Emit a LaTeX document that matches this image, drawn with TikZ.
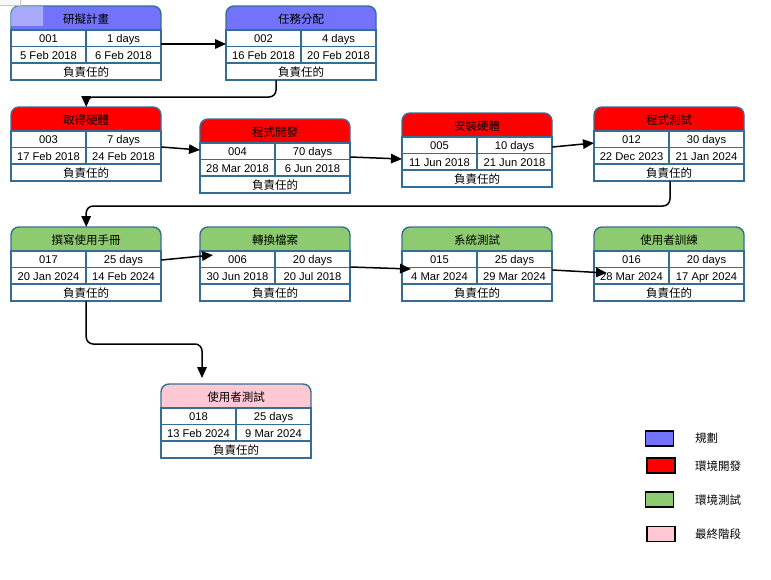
\documentclass[tikz,border=0pt]{standalone}
\usepackage{fontspec}
\setmainfont{Liberation Sans}
\newfontfamily\cjk{Noto Sans CJK TC}
\usetikzlibrary{arrows.meta,calc}
\definecolor{plan}{RGB}{114,114,250}
\definecolor{devr}{RGB}{255,0,0}
\definecolor{testg}{RGB}{142,203,112}
\definecolor{finalp}{RGB}{255,200,210}
\definecolor{bord}{RGB}{52,110,150}
\tikzset{
  cell/.style={font=\fontsize{11.2}{12}\selectfont, inner sep=0pt, anchor=base},
  ttl/.style={font=\fontsize{11.5}{12}\selectfont\cjk, inner sep=0pt, anchor=base},
  border/.style={draw=bord, line width=1.4pt},
  conn/.style={line width=1.5pt, -{Triangle[length=11pt,width=9.5pt]}},
  legbox/.style={draw=black, line width=1.2pt, minimum width=28pt, minimum height=15pt, inner sep=0pt},
  legtxt/.style={font=\fontsize{11.5}{12}\selectfont\cjk, anchor=west, inner sep=0pt},
}
\newcommand\taskbox[9]{%
  \node[inner sep=0pt, minimum width=150pt, minimum height=74pt, anchor=north west] (#1) at (#2,#3) {};
  \begin{scope}
    \clip (#2-3,#3-3) rectangle (#2+153,#3+24);
    \draw[border, fill=#4, rounded corners=8pt] (#2,#3) rectangle (#2+150,#3+40);
  \end{scope}
  \draw[border, fill=white] (#2,#3+24) rectangle (#2+150,#3+74);
  \draw[border] (#2,#3+40.5) -- (#2+150,#3+40.5) (#2,#3+57) -- (#2+150,#3+57) (#2+75,#3+24) -- (#2+75,#3+57);
  \node[ttl] (#1-t) at (#2+75,#3+17) {#5};
  \node[cell] (#1-id) at (#2+37.5,#3+36.5) {#6};
  \node[cell] (#1-d) at (#2+112.5,#3+36.5) {#7};
  \node[cell] (#1-s) at (#2+37.5,#3+53) {#8};
  \node[cell] (#1-e) at (#2+112.5,#3+53) {#9};
  \node[ttl] (#1-r) at (#2+75,#3+70) {負責任的};
}
\begin{document}
\begin{tikzpicture}[x=1pt,y=-1pt]
\useasboundingbox (0,0) rectangle (771,579);
\taskbox{b1}{11}{6}{plan}{研擬計畫}{001}{1 days}{5 Feb 2018}{6 Feb 2018}
\taskbox{b2}{226}{6}{plan}{任務分配}{002}{4 days}{16 Feb 2018}{20 Feb 2018}
\taskbox{b3}{11}{107}{devr}{取得硬體}{003}{7 days}{17 Feb 2018}{24 Feb 2018}
\taskbox{b4}{200}{119}{devr}{程式開發}{004}{70 days}{28 Mar 2018}{6 Jun 2018}
\taskbox{b5}{402}{113}{devr}{安裝硬體}{005}{10 days}{11 Jun 2018}{21 Jun 2018}
\taskbox{b6}{594}{107}{devr}{程式測試}{012}{30 days}{22 Dec 2023}{21 Jan 2024}
\taskbox{b7}{11}{227}{testg}{撰寫使用手冊}{017}{25 days}{20 Jan 2024}{14 Feb 2024}
\taskbox{b8}{200}{227}{testg}{轉換檔案}{006}{20 days}{30 Jun 2018}{20 Jul 2018}
\taskbox{b9}{402}{227}{testg}{系統測試}{015}{25 days}{4 Mar 2024}{29 Mar 2024}
\taskbox{b10}{594}{227}{testg}{使用者訓練}{016}{20 days}{28 Mar 2024}{17 Apr 2024}
\taskbox{b11}{161}{384}{finalp}{使用者測試}{018}{25 days}{13 Feb 2024}{9 Mar 2024}
% screenshot artefacts at the top left
\begin{scope}
  \clip (11,6) rectangle (43,25);
  \fill[white, opacity=0.4, rounded corners=8pt] (11,6) rectangle (60,40);
\end{scope}
\draw[gray!45, fill=gray!5, line width=0.7pt] (-1,-2) rectangle (20,5.5);
% connectors
\draw[conn] ($(b1.north east)+(0,38)$) -- ($(b2.north west)+(0,38)$);
\draw[conn, rounded corners=7pt] ($(b2.south west)+(50,0)$) |- ($(b3.north)+(0,-10)$) -- (b3.north);
\draw[conn] ($(b3.north east)+(0,40)$) -- ($(b4.north west)+(0,31)$);
\draw[conn] ($(b4.north east)+(0,38)$) -- ($(b5.north west)+(0,46)$);
\draw[conn] ($(b5.north east)+(0,34)$) -- ($(b6.north west)+(0,36)$);
\draw[conn, rounded corners=7pt] ($(b6.south west)+(76,0)$) |- ($(b7.north)+(0,-21)$) -- (b7.north);
\draw[conn] ($(b7.north east)+(0,33)$) -- ($(b8.north west)+(13,28)$);
\draw[conn] ($(b8.north east)+(0,40)$) -- ($(b9.north west)+(9,42)$);
\draw[conn] ($(b9.north east)+(0,43)$) -- ($(b10.north west)+(13,46)$);
\draw[conn, rounded corners=7pt] (b7.south) |- ($(b11.north west)+(41,-40)$) -- ($(b11.north west)+(41,-6)$);
% legend
\node[legbox, fill=plan] (l1) at (659.5,438.5) {};
\node[legbox, fill=devr] (l2) at (661,465.5) {};
\node[legbox, fill=testg] (l3) at (659.5,499.5) {};
\node[legbox, fill=finalp] (l4) at (661,534) {};
\node[legtxt] (l1t) at (695,438) {規劃};
\node[legtxt] (l2t) at (695,466) {環境開發};
\node[legtxt] (l3t) at (695,500) {環境測試};
\node[legtxt] (l4t) at (695,534) {最終階段};
\end{tikzpicture}
\end{document}
